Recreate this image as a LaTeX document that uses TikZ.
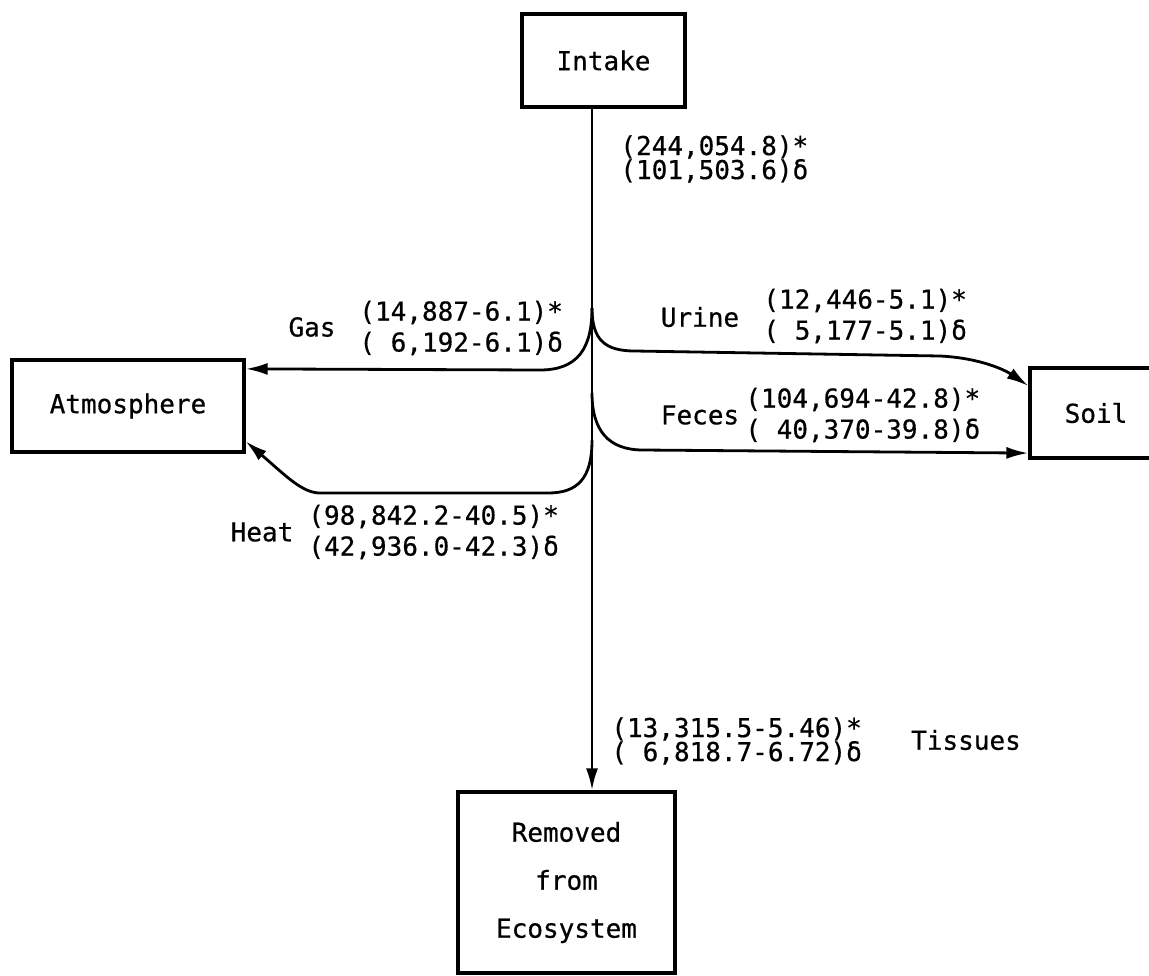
\documentclass[tikz,border=0pt]{standalone}
\usepackage{fontspec}
\setmainfont{DejaVu Sans Mono}[FakeBold=0.6]
\usepackage{tikz}
\usetikzlibrary{calc}
\usetikzlibrary{arrows.meta}
\newcommand{\valfont}[1]{\fontsize{13}{#1}\selectfont\lineskiplimit-20pt\relax}

\begin{document}
\begin{tikzpicture}[x=0.5pt,y=-0.5pt,
	box/.style={draw,line width=1.6pt,inner sep=0pt,align=center,font=\fontsize{13}{24}\selectfont},
	flow/.style={line width=1.4pt,-{Latex[length=11pt,width=6pt]}},
	lbl/.style={inner sep=0pt,font=\fontsize{13}{15}\selectfont},
	vals/.style={inner sep=0pt,anchor=west,align=left,font=\valfont{15.5}},
	tightvals/.style={vals,font=\valfont{12}}]
	\useasboundingbox (0,0) rectangle (1149,975);
	\clip (0,0) rectangle (1149,975);
	% boxes
	\node[box,minimum width=81.5pt,minimum height=46.5pt] (intake) at (603.5,60.5) {Intake};
	\node[box,minimum width=116pt,minimum height=46pt] (atm) at (128,406) {Atmosphere};
	\node[box,minimum width=66pt,minimum height=45pt] (soil) at (1096,413) {Soil};
	\node[box,minimum width=108.5pt,minimum height=90.5pt] (removed) at (566.5,882.5) {Removed\\from\\Ecosystem};
	% branch points on the main line
	\coordinate (fork1) at (592,308);
	\coordinate (fork2) at (592,393);
	\coordinate (fork3) at (592,440);
	% flows
	\draw[flow] (intake.south -| fork1) -- (removed.north -| fork1);
	\draw[flow] (fork1) .. controls (592,348) and (578,370) .. (540,370) -- ($(atm.north east)!0.11!(atm.south east)$);
	\draw[flow] (fork3) .. controls (592,478) and (578,493) .. (548,493) -- (320,493) .. controls (302,493) and (285,475) .. ($(atm.north east)!0.87!(atm.south east)$);
	\draw[flow] (fork1) .. controls (592,340) and (605,351) .. (635,351) -- (940,356) .. controls (980,358) and (1005,370) .. ($(soil.north west)!0.21!(soil.south west)$);
	\draw[flow] (fork2) .. controls (592,430) and (608,450) .. (643,450) -- ($(soil.north west)!0.93!(soil.south west)$);
	% labels
	\node[tightvals] (intakeval) at (620,159) {(244,054.8)*\\(101,503.6)δ};
	\node[lbl] (gas) at (312,327) {Gas};
	\node[vals] (gasval) at (359,328) {(14,887-6.1)*\\( 6,192-6.1)δ};
	\node[lbl] (heat) at (262,532) {Heat};
	\node[vals] (heatval) at (308,532) {(98,842.2-40.5)*\\(42,936.0-42.3)δ};
	\node[lbl] (urine) at (700,317) {Urine};
	\node[vals] (urineval) at (763,316) {(12,446-5.1)*\\( 5,177-5.1)δ};
	\node[lbl] (feces) at (700,415) {Feces};
	\node[vals] (fecesval) at (745,415) {(104,694-42.8)*\\( 40,370-39.8)δ};
	\node[tightvals] (tissueval) at (611,741) {(13,315.5-5.46)*\\( 6,818.7-6.72)δ};
	\node[lbl] (tissues) at (966,740) {Tissues};
\end{tikzpicture}
\end{document}
